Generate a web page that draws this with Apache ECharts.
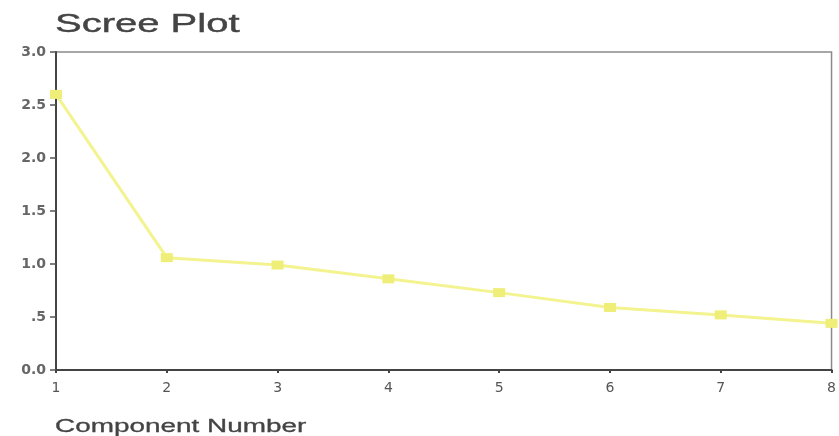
<!DOCTYPE html>
<html><head><meta charset="utf-8">
<script src="https://cdn.jsdelivr.net/npm/echarts@6/dist/echarts.min.js"></script>
<style>html,body{margin:0;padding:0;background:#fff}#c{width:839px;height:436px}</style>
</head><body><div id="c"></div>
<script>
const components = [1, 2, 3, 4, 5, 6, 7, 8];
const eigenvalues = [2.60, 1.06, 0.99, 0.86, 0.73, 0.59, 0.52, 0.44];
const yTicks = ['0.0', '.5', '1.0', '1.5', '2.0', '2.5', '3.0'];
const titleText = 'Scree Plot';
const xAxisName = 'Component Number';

const chart = echarts.init(document.getElementById('c'));
chart.setOption({
  animation: false,
  graphic: [
    {type: 'text', x: 55, y: 13, scaleX: 1.6, style: {text: titleText, font: '25px "Liberation Sans"', fill: '#444', stroke: '#444', lineWidth: 0.4}},
    {type: 'text', x: 55, y: 418, scaleX: 1.55, style: {text: xAxisName, font: '18px "Liberation Sans"', fill: '#444', stroke: '#444', lineWidth: 0.3}}
  ],
  grid: {left: 56, right: 2, top: 52, bottom: 66, show: true, borderColor: '#8a8a8a', borderWidth: 1.5, backgroundColor: '#fff'},
  xAxis: {
    type: 'value', min: 1, max: 8, interval: 1,
    axisLine: {lineStyle: {color: '#444', width: 2}},
    axisTick: {show: true, length: 3, lineStyle: {color: '#444', width: 2}},
    axisLabel: {color: '#555', fontSize: 14, fontFamily: 'DejaVu Sans', margin: 11},
    splitLine: {show: false}
  },
  yAxis: {
    type: 'value', min: 0, max: 3, interval: 0.5,
    axisLine: {show: true, lineStyle: {color: '#444', width: 2}},
    axisTick: {show: true, length: 6, lineStyle: {color: '#555', width: 1.5}},
    axisLabel: {color: '#666', fontSize: 14, fontFamily: 'DejaVu Sans', fontWeight: 'bold', margin: 10,
      formatter: v => yTicks[Math.round(v / 0.5)]},
    splitLine: {show: false}
  },
  series: [{
    type: 'line',
    data: components.map((c, i) => [c, eigenvalues[i]]),
    symbol: 'rect', symbolSize: [12, 9],
    itemStyle: {color: '#eeee78'},
    lineStyle: {color: '#f3f390', width: 3},
    clip: false
  }]
});
</script></body></html>
